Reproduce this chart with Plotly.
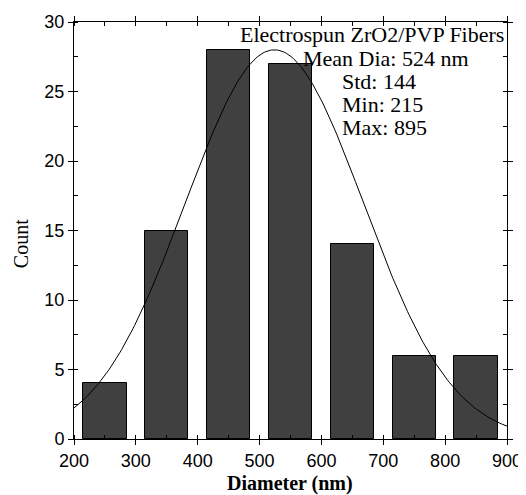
import numpy as np
import plotly.graph_objects as go

# Data
bin_centers = [250, 350, 450, 550, 650, 750, 850]
counts = [4, 15, 28, 27, 14, 6, 6]
bar_width = 70

fit_mean = 524
fit_std = 144
fit_amp = 28.0
fit_x = np.linspace(200, 900, 301)
fit_y = fit_amp * np.exp(-((fit_x - fit_mean) ** 2) / (2 * fit_std ** 2))

info_lines = ["Electrospun ZrO2/PVP Fibers", "Mean Dia: 524 nm", "Std: 144", "Min: 215", "Max: 895"]
x_title = "Diameter (nm)"
y_title = "Count"

fig = go.Figure()
fig.add_trace(go.Bar(x=bin_centers, y=counts, width=bar_width,
                     marker=dict(color="#404040", line=dict(color="black", width=1)),
                     showlegend=False))
fig.add_trace(go.Scatter(x=fit_x, y=fit_y, mode="lines",
                         line=dict(color="black", width=1), showlegend=False))

serif = "Liberation Serif, Times New Roman, serif"
sans = "Liberation Sans, Arial, sans-serif"

OFF = 8  # page body margin
WIN_W, WIN_H = 526, 495
W, H = WIN_W - OFF, WIN_H - OFF
# plot area in window pixels
X0, X1, Y0, Y1 = 73.7, 506.7, 22.0, 439.3
L = X0 - OFF
T = Y0 - OFF
R = W - (X1 - OFF)
B = H - (Y1 - OFF)
pw = X1 - X0
ph = Y1 - Y0

def px(x):
    return (x - X0) / pw

def py(y):
    return (Y1 - y) / ph

anns = [
    dict(text=info_lines[0], x=px(506), y=py(35), xanchor="right"),
    dict(text=info_lines[1], x=px(301), y=py(59), xanchor="left"),
    dict(text=info_lines[2], x=px(340), y=py(82), xanchor="left"),
    dict(text=info_lines[3], x=px(340), y=py(105), xanchor="left"),
    dict(text=info_lines[4], x=px(340), y=py(128), xanchor="left"),
]
for a in anns:
    fig.add_annotation(xref="paper", yref="paper", yanchor="middle", showarrow=False,
                       font=dict(family=serif, size=22, color="black"), **a)

fig.add_annotation(xref="paper", yref="paper", x=px(290), y=py(484), xanchor="center", yanchor="middle",
                   showarrow=False, text="<b>" + x_title + "</b>",
                   font=dict(family=serif, size=20, color="black"))
fig.add_annotation(xref="paper", yref="paper", x=px(21), y=py(244), xanchor="center", yanchor="middle",
                   showarrow=False, text=y_title, textangle=-90, borderpad=0,
                   font=dict(family=serif, size=20, color="black"))

fig.update_layout(
    width=W, height=H,
    margin=dict(l=L, r=R, t=T, b=B, pad=0),
    plot_bgcolor="white", paper_bgcolor="white",
    bargap=0,
    xaxis=dict(range=[200, 900], dtick=100, tick0=200, automargin=False,
               showline=True, linecolor="black", linewidth=1, mirror="ticks",
               ticks="outside", ticklen=5, tickcolor="black", showgrid=False, zeroline=False,
               tickfont=dict(family=sans, size=18, color="black"),
               minor=dict(ticks="inside", ticklen=4, dtick=50, tick0=200, tickcolor="black", showgrid=False)),
    yaxis=dict(range=[0, 30], dtick=5, tick0=0, automargin=False,
               showline=True, linecolor="black", linewidth=1, mirror="ticks",
               ticks="outside", ticklen=5, tickcolor="black", showgrid=False, zeroline=False,
               tickfont=dict(family=sans, size=18, color="black"),
               minor=dict(ticks="inside", ticklen=4, dtick=2.5, tick0=0, tickcolor="black", showgrid=False)),
)

fig.write_html("out.html")
